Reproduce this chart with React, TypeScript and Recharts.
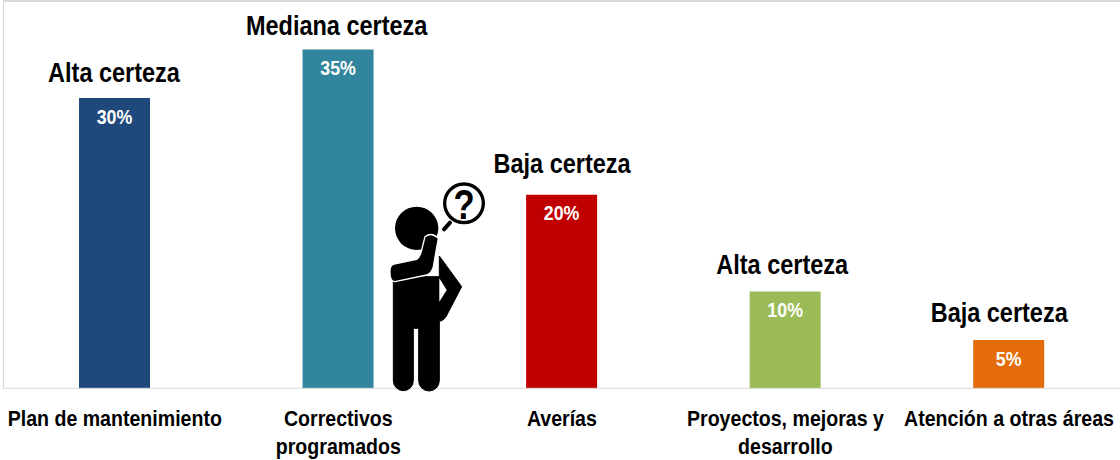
import { BarChart, Bar, XAxis, YAxis, Cell, LabelList } from "recharts";

const categories = ["Plan de mantenimiento", "Correctivos programados", "Averías", "Proyectos, mejoras y desarrollo", "Atención a otras áreas"];
const tickLines = [["Plan de mantenimiento"], ["Correctivos", "programados"], ["Averías"], ["Proyectos, mejoras y", "desarrollo"], ["Atención a otras áreas"]];
const values = [30, 35, 20, 10, 5];
const certainty = ["Alta certeza", "Mediana certeza", "Baja certeza", "Alta certeza", "Baja certeza"];
const certaintyGaps = [16, 14.5, 21.4, 17.2, 18];
const certaintyShifts = [-0.5, -1.4, 0.5, -3, -9.5];
const colors = ["#1f497d", "#31859c", "#c00000", "#9bbb59", "#e46c0a"];

const data = categories.map((name, i) => ({ name, value: values[i], certainty: certainty[i] }));

const FONT = "'Liberation Sans', Arial, sans-serif";
const SQUEEZE = 0.89;

function CategoryTick({ x, y, index }: any) {
  return (
    <g transform={`translate(${x},${y + 38}) scale(${SQUEEZE},1)`}>
      <text textAnchor="middle" fontFamily={FONT} fontWeight="bold" fontSize={22} fill="#000">
        {tickLines[index].map((line, i) => (
          <tspan key={line} x={0} dy={i === 0 ? 0 : 28}>
            {line}
          </tspan>
        ))}
      </text>
    </g>
  );
}

function PercentLabel({ x, y, width, value }: any) {
  return (
    <text
      transform={`translate(${x + width / 2},${y + 25.7}) scale(${SQUEEZE},1)`}
      textAnchor="middle"
      fontFamily={FONT}
      fontWeight="bold"
      fontSize={20}
      fill="#fff"
    >
      {value}%
    </text>
  );
}

function CertaintyLabel({ x, y, width, value, index }: any) {
  return (
    <text
      transform={`translate(${x + width / 2 + certaintyShifts[index]},${y - certaintyGaps[index]}) scale(0.87,1)`}
      textAnchor="middle"
      fontFamily={FONT}
      fontWeight="bold"
      fontSize={27}
      fill="#000"
    >
      {value}
    </text>
  );
}

// figure with the question bubble, drawn over the chart
function ThinkingFigure() {
  return (
    <svg width={130} height={230} viewBox="0 0 390 690" style={{ position: "absolute", left: 370, top: 170 }}>
      <circle cx={140} cy={175} r={65} fill="#000" />
      <path
        d="M70 320 H208 V258 L275 350 L228 440 Q218 454 208 454 V632 A30 30 0 0 1 146 632 V475 H130 V632 A30 30 0 0 1 70 632 Z"
        fill="#000"
        stroke="#000"
        strokeWidth={3}
        strokeLinejoin="round"
      />
      <path d="M208 325 L230 360 L208 395 Z" fill="#fff" />
      <path
        d="M72 282 L140 268 Q150 262 155 240 L165 200 Q185 185 205 205 L190 290 Q185 310 170 315 L75 335 Q58 335 60 300 Q60 286 72 282 Z"
        fill="#000"
        stroke="#fff"
        strokeWidth={4}
        strokeLinejoin="round"
      />
      <circle cx={282} cy={100} r={58} fill="#fff" stroke="#000" strokeWidth={10} />
      <path d="M222 178 L240 158" stroke="#000" strokeWidth={12} strokeLinecap="round" />
      <text transform="translate(282,148) scale(0.8,1)" textAnchor="middle" fontFamily={FONT} fontWeight="bold" fontSize={130} fill="#000">
        ?
      </text>
    </svg>
  );
}

export default function App() {
  return (
    <div style={{ position: "absolute", left: 0, top: 0, width: 1120, height: 460, background: "#fff" }}>
      <div style={{ position: "absolute", left: 3, top: 0, width: 1117, height: 388, borderLeft: "1px solid #d9d9d9", borderTop: "2px solid #d9d9d9", boxSizing: "border-box" }} />
      <BarChart width={1120} height={460} data={data} margin={{ top: 49.5, right: -0.75, left: 3, bottom: 0 }} barSize={71}>
        <XAxis
          dataKey="name"
          axisLine={{ stroke: "#d9d9d9", strokeWidth: 1 }}
          tickLine={false}
          interval={0}
          height={71.7}
          tick={<CategoryTick />}
          tickMargin={0}
          tickSize={0}
        />
        <YAxis hide domain={[0, 35]} />
        <Bar dataKey="value" isAnimationActive={false}>
          {data.map((d, i) => (
            <Cell key={d.name} fill={colors[i]} />
          ))}
          <LabelList dataKey="value" content={<PercentLabel />} />
          <LabelList dataKey="certainty" content={<CertaintyLabel />} />
        </Bar>
      </BarChart>
      <ThinkingFigure />
    </div>
  );
}
